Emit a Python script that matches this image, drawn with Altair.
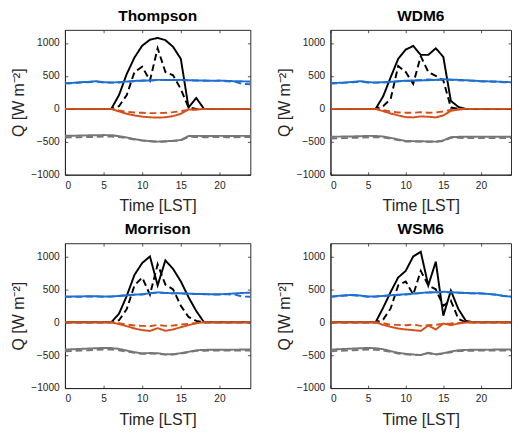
import altair as alt
import pandas as pd

hours = list(range(25))

# ---- Thompson ----
th_sw_solid = [0, 0, 0, 0, 0, 0, 0, 210, 530, 780, 960, 1050, 1078, 1044, 942, 760, 20, 165, 0, 0, 0, 0, 0, 0, 0]
th_sw_dash = [0, 0, 0, 0, 0, 0, 0, 40, 210, 560, 640, 430, 920, 560, 510, 300, 20, 0, 0, 0, 0, 0, 0, 0, 0]
th_g_solid = [0, 0, 0, 0, 0, 0, 0, -40, -75, -100, -118, -128, -132, -128, -110, -75, -10, -10, 0, 0, 0, 0, 0, 0, 0]
th_g_dash = [0, 0, 0, 0, 0, 0, 0, -25, -45, -55, -60, -65, -65, -60, -50, -35, -15, -10, 0, 0, 0, 0, 0, 0, 0]
th_lw_solid = [390, 395, 405, 410, 420, 405, 400, 405, 415, 425, 430, 432, 440, 440, 438, 440, 435, 432, 430, 428, 430, 425, 420, 418, 415]
th_lw_dash = [385, 390, 400, 405, 415, 400, 398, 400, 410, 420, 428, 430, 438, 440, 436, 438, 432, 430, 428, 425, 425, 420, 410, 380, 375]
th_up_solid = [-410, -408, -405, -402, -400, -398, -400, -415, -435, -460, -478, -490, -498, -492, -485, -473, -412, -410, -412, -412, -410, -412, -412, -410, -410]
th_up_dash = [-435, -432, -430, -428, -425, -422, -420, -428, -445, -465, -482, -492, -500, -495, -488, -478, -425, -428, -430, -430, -428, -430, -430, -428, -428]

# ---- WDM6 ----
wd_sw_solid = [0, 0, 0, 0, 0, 0, 0, 190, 480, 760, 900, 956, 820, 820, 920, 790, 120, 30, 0, 0, 0, 0, 0, 0, 0]
wd_sw_dash = [0, 0, 0, 0, 0, 0, 0, 40, 150, 650, 560, 380, 800, 560, 500, 430, 20, 0, 0, 0, 0, 0, 0, 0, 0]
wd_g_solid = [0, 0, 0, 0, 0, 0, 0, -35, -70, -100, -125, -130, -115, -120, -130, -100, -30, -10, 0, 0, 0, 0, 0, 0, 0]
wd_g_dash = [0, 0, 0, 0, 0, 0, 0, -20, -40, -55, -60, -60, -50, -60, -55, -40, -15, -5, 0, 0, 0, 0, 0, 0, 0]
wd_lw_solid = [390, 395, 400, 410, 420, 405, 400, 405, 410, 420, 428, 430, 432, 435, 440, 450, 445, 440, 435, 430, 420, 418, 415, 410, 405]
wd_lw_dash = [385, 390, 398, 405, 415, 400, 398, 400, 408, 418, 425, 428, 440, 445, 438, 445, 440, 435, 430, 425, 418, 415, 412, 405, 400]
wd_up_solid = [-425, -422, -420, -418, -415, -410, -412, -420, -440, -465, -488, -490, -492, -495, -498, -480, -430, -425, -425, -425, -425, -425, -425, -425, -425]
wd_up_dash = [-450, -448, -445, -440, -438, -432, -430, -435, -450, -475, -495, -495, -498, -500, -500, -490, -440, -440, -442, -445, -445, -445, -445, -445, -445]

# ---- Morrison ----
mo_sw_solid = [0, 0, 0, 0, 0, 0, 0, 130, 400, 720, 900, 1000, 560, 940, 810, 620, 380, 170, 0, 0, 0, 0, 0, 0, 0]
mo_sw_dash = [0, 0, 0, 0, 0, 0, 0, 30, 200, 560, 680, 420, 880, 570, 500, 250, 80, 20, 0, 0, 0, 0, 0, 0, 0]
mo_g_solid = [0, 0, 0, 0, 0, 0, 0, -30, -60, -95, -120, -132, -90, -130, -110, -75, -45, -15, 0, 0, 0, 0, 0, 0, 0]
mo_g_dash = [0, 0, 0, 0, 0, 0, 0, -15, -35, -50, -55, -60, -40, -55, -50, -35, -25, -10, 0, 0, 0, 0, 0, 0, 0]
mo_lw_solid = [390, 390, 392, 395, 395, 390, 392, 400, 410, 420, 425, 440, 454, 445, 440, 440, 435, 430, 428, 425, 425, 430, 438, 445, 449]
mo_lw_dash = [385, 385, 388, 390, 392, 388, 390, 398, 408, 418, 422, 438, 450, 445, 440, 438, 432, 428, 425, 422, 422, 425, 420, 390, 388]
mo_up_solid = [-415, -410, -405, -400, -395, -390, -392, -405, -430, -455, -473, -468, -470, -488, -485, -470, -450, -425, -420, -418, -418, -418, -416, -415, -415]
mo_up_dash = [-440, -435, -430, -425, -420, -415, -415, -425, -445, -465, -480, -475, -478, -492, -490, -475, -455, -435, -432, -430, -430, -430, -428, -428, -428]

# ---- WSM6 ----
ws_sw_solid = [0, 0, 0, 0, 0, 0, 0, 220, 460, 680, 780, 1000, 1070, 560, 920, 100, 480, 200, 20, 0, 0, 0, 0, 0, 0]
ws_sw_dash = [0, 0, 0, 0, 0, 0, 0, 40, 210, 560, 620, 420, 780, 560, 500, 250, 330, 50, 0, 0, 0, 0, 0, 0, 0]
ws_g_solid = [0, 0, 0, 0, 0, 0, 0, -40, -70, -95, -110, -120, -132, -50, -110, -20, -45, -20, -5, 0, 0, 0, 0, 0, 0]
ws_g_dash = [0, 0, 0, 0, 0, 0, 0, -15, -40, -40, -45, -35, -55, -45, -40, -25, -20, -10, 0, 0, 0, 0, 0, 0, 0]
ws_lw_solid = [390, 400, 410, 415, 405, 390, 392, 400, 410, 418, 425, 435, 445, 454, 455, 464, 455, 450, 445, 440, 440, 430, 420, 400, 390]
ws_lw_dash = [385, 395, 405, 410, 400, 388, 390, 398, 408, 415, 422, 432, 442, 450, 452, 460, 452, 448, 442, 438, 436, 428, 418, 398, 385]
ws_up_solid = [-415, -410, -405, -400, -395, -390, -395, -410, -440, -465, -480, -490, -498, -464, -488, -470, -445, -425, -420, -418, -418, -416, -415, -415, -415]
ws_up_dash = [-440, -435, -430, -425, -420, -415, -418, -428, -450, -475, -488, -495, -500, -470, -492, -478, -455, -438, -435, -432, -430, -430, -430, -428, -428]

x_ticks = [0, 5, 10, 15, 20]
y_ticks = [-1000, -500, 0, 500, 1000]

panels = [
    ("Thompson", [th_sw_solid, th_sw_dash, th_lw_solid, th_lw_dash, th_g_solid, th_g_dash, th_up_solid, th_up_dash]),
    ("WDM6", [wd_sw_solid, wd_sw_dash, wd_lw_solid, wd_lw_dash, wd_g_solid, wd_g_dash, wd_up_solid, wd_up_dash]),
    ("Morrison", [mo_sw_solid, mo_sw_dash, mo_lw_solid, mo_lw_dash, mo_g_solid, mo_g_dash, mo_up_solid, mo_up_dash]),
    ("WSM6", [ws_sw_solid, ws_sw_dash, ws_lw_solid, ws_lw_dash, ws_g_solid, ws_g_dash, ws_up_solid, ws_up_dash]),
]

colors = ["#000000", "#000000", "#1F6FD0", "#1F6FD0", "#D4501A", "#D4501A", "#767676", "#767676"]
dashes = [[1, 0], [7, 4]] * 4

FONT = "Liberation Sans"
AX = "#262626"


def tick_axis(orient, values):
    return alt.Axis(orient=orient, values=values, labels=False, domain=False, title=None,
                    ticks=True, tickSize=3, offset=-3, tickColor=AX, tickWidth=0.8)


def panel(name, series, width):
    xs = alt.Scale(domain=[0, 24], nice=False)
    ys = alt.Scale(domain=[-1000, 1200], nice=False)
    layers = []
    for i, (s, c, d) in enumerate(zip(series, colors, dashes)):
        df = pd.DataFrame({"t": hours, "v": s})
        if i == 0:
            ax_x = alt.Axis(values=x_ticks, title="Time [LST]", ticks=False, format="d", titlePadding=8)
            ax_y = alt.Axis(values=y_ticks, title="Q [W m⁻²]", ticks=False, format="d")
        elif i == 1:
            ax_x = tick_axis("bottom", x_ticks)
            ax_y = tick_axis("left", y_ticks)
        elif i == 2:
            ax_x = tick_axis("top", x_ticks)
            ax_y = tick_axis("right", y_ticks)
        else:
            ax_x = None
            ax_y = None
        layers.append(
            alt.Chart(df).mark_line(color=c, strokeDash=d, strokeWidth=2, clip=True).encode(
                x=alt.X("t:Q", scale=xs, axis=ax_x),
                y=alt.Y("v:Q", scale=ys, axis=ax_y),
            )
        )
    return alt.layer(*layers).resolve_axis(x="independent", y="independent").properties(
        width=width, height=150,
        title=alt.TitleParams(name, fontSize=16, fontWeight="bold", font=FONT, color="black", offset=6),
    )


row1 = alt.hconcat(panel(*panels[0], 192), panel(*panels[1], 187), spacing=26)
row2 = alt.hconcat(panel(*panels[2], 192), panel(*panels[3], 187), spacing=26)
chart = alt.vconcat(row1, row2, spacing=6).properties(
    padding={"left": 3, "top": -8, "right": 0, "bottom": 0}
).configure_view(stroke=AX, strokeWidth=1).configure_axis(
    grid=False, labelFont=FONT, titleFont=FONT, labelFontSize=10.5, titleFontSize=16.5,
    titleFontWeight="normal", labelColor=AX, titleColor=AX, domainColor=AX, labelPadding=6,
    titlePadding=4,
)

chart.save("out.html", embed_options={"renderer": "svg", "actions": False})
